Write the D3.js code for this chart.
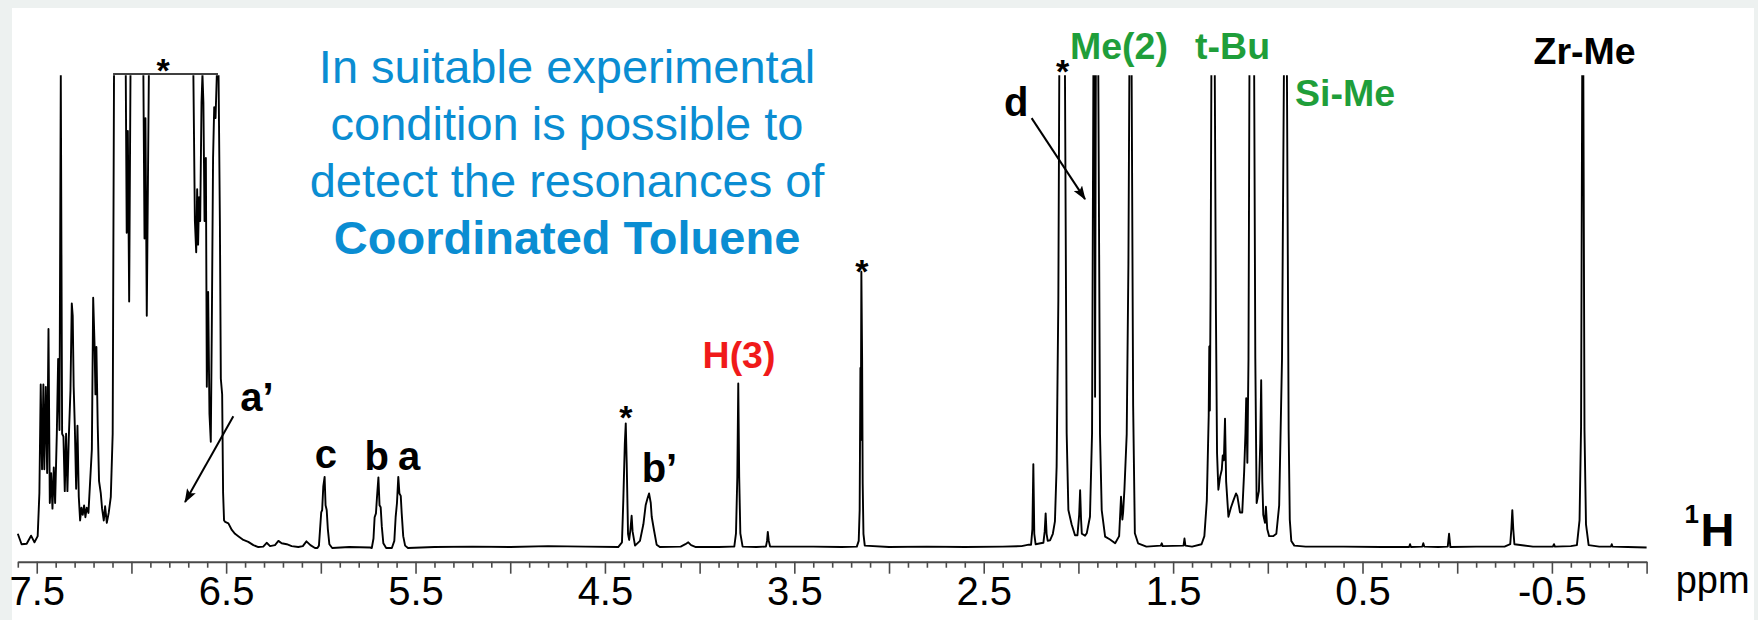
<!DOCTYPE html>
<html><head><meta charset="utf-8">
<script src="https://cdn.jsdelivr.net/npm/d3@7"></script>
<style>
body{margin:0;background:#fff}
svg{display:block}
text{font-family:"Liberation Sans",Arial,Helvetica,sans-serif}
</style>
</head><body>
<svg id="chart" width="1758" height="620"></svg>
<script>
// ---------- DATA (chemical shift in ppm, intensity: 0 = baseline, 100 = plot ceiling / clipped) ----------
const aromaticRegion = [
 [7.600,3.0],[7.580,0.8],[7.553,0.9],[7.530,2.6],[7.512,1.2],[7.495,2.5],[7.486,11.6],[7.479,34.5],
 [7.472,16.6],[7.465,34.5],[7.460,16.6],[7.452,34.0],[7.445,15.8],[7.438,46.2],[7.431,9.5],[7.424,15.8],
 [7.417,8.3],[7.410,17.0],[7.403,9.5],[7.394,24.1],[7.387,39.9],[7.380,24.9],[7.373,100],[7.366,24.1],
 [7.359,23.5],[7.352,12.0],[7.345,24.1],[7.338,12.0],[7.331,23.0],[7.322,33.2],[7.315,51.6],[7.310,49.0],
 [7.305,34.0],[7.299,25.8],[7.292,12.5],[7.285,25.8],[7.278,10.8],[7.271,5.8],[7.264,8.5],[7.257,7.0],
 [7.250,9.0],[7.243,6.5],[7.236,8.5],[7.227,7.4],[7.218,14.1],[7.209,20.8],[7.202,52.8],[7.195,43.2],
 [7.190,32.4],[7.185,42.4],[7.178,25.8],[7.171,14.1],[7.162,11.6],[7.155,8.3],[7.146,5.8],[7.139,8.8],
 [7.130,5.3],[7.120,7.4],[7.109,10.8],[7.099,24.1],[7.092,100],[7.030,100],[7.025,66.5],[7.019,88.0],
 [7.012,52.0],[7.005,100],[6.937,100],[6.931,65.3],[6.926,90.7],[6.919,49.0],[6.908,100],[6.673,100],
 [6.665,69.0],[6.658,62.4],[6.653,75.7],[6.648,64.0],[6.643,74.0],[6.637,69.0],[6.630,94.0],[6.625,100],
 [6.620,94.0],[6.614,69.0],[6.607,82.3],[6.602,34.0],[6.595,54.0],[6.588,28.3],[6.581,22.4],[6.576,44.8],
 [6.569,82.3],[6.563,93.0],[6.556,90.7],[6.549,100],[6.540,100],[6.533,69.0],[6.528,35.7],[6.521,32.4],
 [6.516,11.6],[6.511,5.8],[6.505,5.5],[6.488,5.2],[6.470,3.8],[6.453,3.0],[6.436,2.5],[6.409,1.7],
 [6.383,1.3],[6.356,0.6],[6.330,0.2],[6.304,0.3],[6.286,1.1],[6.268,0.4],[6.242,0.6],[6.224,1.5],
 [6.207,1.0],[6.180,0.8],[6.154,0.4],[6.119,0.2],[6.095,0.4],[6.076,1.4],[6.055,0.6],[6.031,0.0]
];
const middleRegion = [
 [6.018,0.0],[6.010,0.5],[6.004,4.0],[5.998,7.5],[5.993,8.0],[5.987,13.0],[5.980,15.0],[5.975,9.0],
 [5.969,8.0],[5.963,4.0],[5.955,0.8],[5.940,0.0],[5.850,0.2],[5.740,0.1],[5.731,0.0],[5.722,2.0],
 [5.716,6.5],[5.709,7.3],[5.703,11.0],[5.696,14.9],[5.690,9.0],[5.684,8.6],[5.678,4.5],[5.670,1.0],
 [5.655,0.0],[5.625,0.0],[5.612,1.5],[5.605,6.5],[5.598,9.5],[5.591,15.0],[5.585,11.5],[5.578,11.0],
 [5.573,7.3],[5.565,2.5],[5.555,0.5],[5.540,0.0],[5.400,0.2],[5.200,0.3],[5.000,0.2],[4.800,0.4],
 [4.600,0.3],[4.430,0.2],[4.410,1.2],[4.403,10.0],[4.395,22.0],[4.390,26.3],[4.385,18.0],[4.378,3.0],
 [4.372,1.7],[4.365,4.0],[4.359,6.8],[4.354,3.5],[4.341,0.5],[4.315,1.5],[4.297,5.0],[4.285,9.0],
 [4.275,10.5],[4.267,11.5],[4.258,9.5],[4.253,6.6],[4.241,3.8],[4.227,0.7],[4.210,0.2],[4.100,0.3],
 [4.075,0.8],[4.060,1.2],[4.045,0.6],[4.020,0.2],[3.900,0.2],[3.830,0.3],[3.817,0.3],[3.808,3.1],
 [3.801,15.0],[3.796,34.7],[3.791,15.0],[3.785,3.1],[3.773,0.3],[3.700,0.2],[3.650,0.3],[3.644,1.5],
 [3.640,3.4],[3.635,1.5],[3.628,0.3],[3.400,0.3],[3.250,0.2],[3.170,0.3],[3.160,1.5],[3.155,8.0],
 [3.151,38.0],[3.149,22.8],[3.146,58.3],[3.142,39.7],[3.139,13.6],[3.135,3.0],[3.128,0.5],[3.000,0.2],
 [2.800,0.3],[2.600,0.2],[2.400,0.3],[2.300,0.4]
];
const aliphaticRegion = [
 [2.262,0.7],[2.250,0.7],[2.243,4.0],[2.238,17.7],[2.233,3.0],[2.226,0.8],[2.200,1.0],[2.185,1.1],
 [2.178,3.5],[2.173,7.3],[2.168,3.0],[2.162,1.5],[2.150,1.6],[2.135,3.0],[2.124,5.6],[2.115,17.2],
 [2.106,52.3],[2.101,100],[2.071,100],[2.062,24.2],[2.053,8.0],[2.036,5.0],[2.018,2.7],[2.005,2.7],
 [1.996,7.0],[1.991,12.2],[1.986,6.0],[1.982,3.0],[1.965,2.6],[1.956,3.1],[1.939,6.6],[1.928,24.2],
 [1.921,100],[1.915,100],[1.912,31.9],[1.908,100],[1.895,100],[1.886,24.0],[1.877,8.0],[1.859,2.4],
 [1.833,1.8],[1.806,1.0],[1.785,2.5],[1.775,10.8],[1.768,6.0],[1.764,7.5],[1.757,12.4],[1.745,24.0],
 [1.736,60.0],[1.731,100],[1.719,100],[1.711,30.0],[1.702,3.1],[1.685,1.0],[1.641,0.3],[1.565,0.5],
 [1.560,1.0],[1.555,0.4],[1.445,0.5],[1.440,2.0],[1.435,0.5],[1.400,0.3],[1.350,0.8],[1.335,2.5],
 [1.322,10.0],[1.312,28.0],[1.309,42.5],[1.306,29.0],[1.302,55.0],[1.298,100],[1.280,100],[1.274,50.0],
 [1.268,20.0],[1.261,12.3],[1.252,15.0],[1.243,16.5],[1.238,19.5],[1.232,18.5],[1.226,27.3],[1.220,14.0],
 [1.208,6.6],[1.195,8.5],[1.182,10.0],[1.168,11.5],[1.161,11.0],[1.147,7.5],[1.135,7.5],[1.125,16.0],
 [1.118,24.3],[1.114,31.6],[1.108,18.0],[1.102,40.0],[1.097,100],[1.072,100],[1.066,40.0],[1.059,9.5],
 [1.047,12.0],[1.040,22.0],[1.035,35.4],[1.029,14.0],[1.024,7.0],[1.015,5.3],[1.010,8.7],[1.003,4.0],
 [0.993,2.5],[0.972,2.5],[0.955,3.0],[0.940,9.0],[0.925,40.0],[0.915,100],[0.899,100],[0.890,25.0],
 [0.884,6.0],[0.876,1.5],[0.860,0.5],[0.800,0.3],[0.600,0.3],[0.400,0.2],[0.254,0.2],[0.249,0.8],
 [0.244,0.2],[0.184,0.3],[0.179,1.0],[0.174,0.3],[0.100,0.2],[0.050,0.3],[0.043,3.0],[0.036,0.2],
 [-0.100,0.3],[-0.250,0.3],[-0.280,0.8],[-0.286,4.0],[-0.291,8.0],[-0.296,4.0],[-0.302,0.8],[-0.400,0.3],
 [-0.505,0.3],[-0.511,0.8],[-0.516,0.3],[-0.600,0.4],[-0.632,0.6],[-0.646,5.9],[-0.654,25.6],[-0.660,100],
 [-0.666,100],[-0.672,25.0],[-0.680,5.0],[-0.694,0.6],[-0.750,0.3],[-0.812,0.3],[-0.816,0.8],[-0.820,0.3],
 [-0.900,0.2],[-1.000,0.1]
];

// axis
const axisDomain = [7.6, -1.0];
const majorTicks = [7.5,7.0,6.5,6.0,5.5,5.0,4.5,4.0,3.5,3.0,2.5,2.0,1.5,1.0,0.5,0.0,-0.5,-1.0];
const tickLabels = [7.5,6.5,5.5,4.5,3.5,2.5,1.5,0.5,-0.5];

// annotations (positions in ppm / intensity units)
const solventBracket = {from:7.097, to:6.543, I:100};
const peakLabels = [
 {text:"a\u2019", ppm:6.426, I:28.9, anchor:"start", color:"#000", size:40},
 {text:"c",      ppm:5.974, I:16.8, anchor:"middle", color:"#000", size:40},
 {text:"b",      ppm:5.705, I:16.5, anchor:"middle", color:"#000", size:40},
 {text:"a",      ppm:5.534, I:16.5, anchor:"middle", color:"#000", size:40},
 {text:"b\u2019", ppm:4.306, I:14.0, anchor:"start", color:"#000", size:40},
 {text:"H(3)",   ppm:3.792, I:37.9, anchor:"middle", color:"#f01a1a", size:37.5},
 {text:"d",      ppm:2.329, I:91.1, anchor:"middle", color:"#000", size:40},
 {text:"Me(2)",  ppm:1.786, I:103.2, anchor:"middle", color:"#1f9e3a", size:37.5},
 {text:"t-Bu",   ppm:1.186, I:103.2, anchor:"middle", color:"#1f9e3a", size:37.5},
 {text:"Si-Me",  ppm:0.592, I:93.2, anchor:"middle", color:"#1f9e3a", size:37.5},
 {text:"Zr-Me",  ppm:-0.673, I:102.1, anchor:"middle", color:"#000", size:37.5}
];
const asterisks = [
 {ppm:6.833, I:98.3},{ppm:4.390, I:25.2},{ppm:3.144, I:56.0},{ppm:2.083, I:98.0}
];
const arrows = [
 {from:[6.462,27.8], to:[6.717,9.7]},
 {from:[2.247,90.7], to:[1.965,73.6]}
];
const noteLines = [
 {text:"In suitable experimental", I:98.1, bold:false},
 {text:"condition is possible to", I:86.1, bold:false},
 {text:"detect the resonances of", I:74.1, bold:false},
 {text:"Coordinated Toluene", I:62.0, bold:true}
];
const notePpm = 4.70;

// ---------- DRAWING ----------
const W = 1758, H = 620;
const svg = d3.select("#chart");
svg.append("rect").attr("width", W).attr("height", H).attr("fill", "#edf1f0");
svg.append("rect").attr("x", 12).attr("y", 8).attr("width", W - 16).attr("height", H - 8).attr("fill", "#fff");

const x = d3.scaleLinear().domain(axisDomain).range([17.8, 1646.6]);
const y = d3.scaleLinear().domain([0, 100]).range([548, 74]);
const axisY = 561.7;

const defs = svg.append("defs");
defs.append("clipPath").attr("id", "plotclip")
  .append("rect").attr("x", 0).attr("y", y(100) + 1.2).attr("width", W).attr("height", H);
defs.append("marker")
  .attr("id", "head").attr("viewBox", "0 0 14 10").attr("refX", 13).attr("refY", 5)
  .attr("markerWidth", 14).attr("markerHeight", 10).attr("markerUnits", "userSpaceOnUse")
  .attr("orient", "auto")
  .append("path").attr("d", "M0,0L14,5L0,10L3,5Z").attr("fill", "#000");

const spectrum = aromaticRegion.concat(middleRegion, aliphaticRegion);
svg.append("path")
  .datum(spectrum)
  .attr("clip-path", "url(#plotclip)")
  .attr("fill", "none")
  .attr("stroke", "#000")
  .attr("stroke-width", 1.9)
  .attr("stroke-linejoin", "round")
  .attr("d", d3.line().x(d => x(d[0])).y(d => y(d[1])));

// solvent bracket at the plot ceiling
svg.append("line")
  .attr("x1", x(solventBracket.from)).attr("x2", x(solventBracket.to))
  .attr("y1", y(solventBracket.I)).attr("y2", y(solventBracket.I))
  .attr("stroke", "#000").attr("stroke-width", 1.6);

// axis
const minorTicks = d3.range(-10, 77).map(i => i / 10).filter(v => !majorTicks.some(m => Math.abs(m - v) < 1e-6));
const gMinor = svg.append("g").attr("transform", `translate(0,${axisY})`)
  .call(d3.axisBottom(x).tickValues(minorTicks).tickSize(6).tickSizeOuter(0).tickFormat(""));
gMinor.select(".domain").remove();
const gMajor = svg.append("g").attr("transform", `translate(0,${axisY})`)
  .call(d3.axisBottom(x).tickValues(majorTicks).tickSize(12).tickSizeOuter(0).tickPadding(3)
    .tickFormat(d => tickLabels.some(t => Math.abs(t - d) < 1e-6) ? d.toFixed(1) : ""));
svg.selectAll(".tick line").attr("stroke", "#4a4a4a").attr("stroke-width", 1.6);
gMajor.select(".domain").attr("stroke", "#4a4a4a").attr("stroke-width", 2);
gMajor.selectAll(".tick text")
  .attr("font-size", 40).attr("fill", "#000")
  .style("font-family", "'Liberation Sans', Arial, sans-serif");

// axis title
const xEnd = x(axisDomain[1]);
svg.append("text").attr("x", xEnd + 38).attr("y", 523).attr("font-size", 26).attr("font-weight", "bold").text("1");
svg.append("text").attr("x", xEnd + 54).attr("y", 546).attr("font-size", 47).attr("font-weight", "bold").text("H");
svg.append("text").attr("x", xEnd + 66).attr("y", 593).attr("font-size", 38).attr("text-anchor", "middle").text("ppm");

// peak labels
svg.selectAll(".plabel").data(peakLabels).enter().append("text")
  .attr("class", "plabel")
  .attr("x", d => x(d.ppm)).attr("y", d => y(d.I))
  .attr("text-anchor", d => d.anchor)
  .attr("font-size", d => d.size).attr("font-weight", "bold")
  .attr("fill", d => d.color)
  .text(d => d.text);

svg.selectAll(".ast").data(asterisks).enter().append("text")
  .attr("class", "ast")
  .attr("x", d => x(d.ppm)).attr("y", d => y(d.I))
  .attr("text-anchor", "middle").attr("font-size", 34).attr("font-weight", "bold")
  .text("*");

// arrows
svg.selectAll(".arrow").data(arrows).enter().append("line")
  .attr("class", "arrow")
  .attr("x1", d => x(d.from[0])).attr("y1", d => y(d.from[1]))
  .attr("x2", d => x(d.to[0])).attr("y2", d => y(d.to[1]))
  .attr("stroke", "#000").attr("stroke-width", 2)
  .attr("marker-end", "url(#head)");

// blue note
svg.selectAll(".note").data(noteLines).enter().append("text")
  .attr("class", "note")
  .attr("x", x(notePpm)).attr("y", d => y(d.I))
  .attr("text-anchor", "middle").attr("font-size", 47)
  .attr("font-weight", d => d.bold ? "bold" : "normal")
  .attr("fill", "#0a8dd2")
  .text(d => d.text);
</script>
</body></html>
